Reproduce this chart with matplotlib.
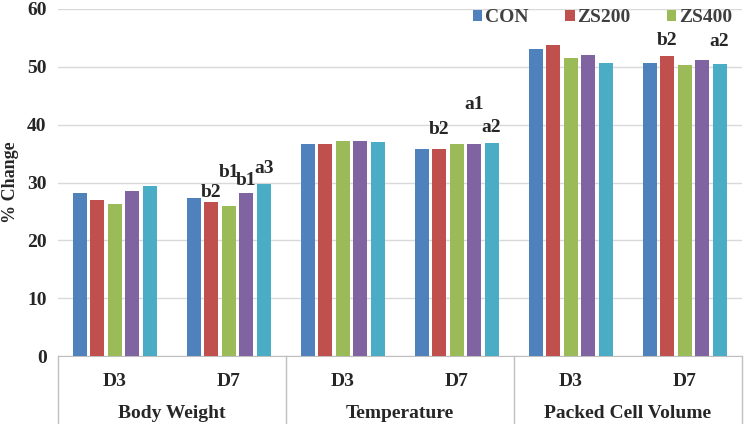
import matplotlib
matplotlib.use("Agg")
import matplotlib.pyplot as plt
import matplotlib.transforms as mtransforms
import numpy as np

plt.rcParams['font.family'] = ['Liberation Serif', 'DejaVu Serif']
plt.rcParams['font.weight'] = 'bold'

groups = ['Body Weight', 'Temperature', 'Packed Cell Volume']
days = ['D3', 'D7', 'D3', 'D7', 'D3', 'D7']
series = ['CON', 'ZS200', 'ZS400', 'S4', 'S5']
con = [28.2, 27.3, 36.7, 35.8, 53.1, 50.7]
zs200 = [27.0, 26.6, 36.7, 35.8, 53.8, 51.9]
zs400 = [26.3, 26.0, 37.2, 36.7, 51.6, 50.3]
s4 = [28.5, 28.2, 37.2, 36.7, 52.1, 51.2]
s5 = [29.4, 29.8, 37.0, 36.9, 50.7, 50.5]
values = [con, zs200, zs400, s4, s5]
colors = ['#4F81BD', '#C0504D', '#9BBB59', '#8064A2', '#4BACC6']

# significance letters: (category index, series index, text, offset in points)
letters = [(1, 1, 'b2', 1), (1, 2, 'b1', 18), (1, 3, 'b1', 3), (1, 4, 'a3', 5),
           (3, 1, 'b2', 8), (3, 3, 'a1', 22), (3, 4, 'a2', 5),
           (5, 1, 'b2', 5), (5, 4, 'a2', 10)]

fig = plt.figure(figsize=(7.5, 4.24), dpi=100)
ax = fig.add_axes([0.077, 0.160, 0.912, 0.819])

x = np.arange(len(days))
step = 0.153
width = 0.125
for i, (vals, c, name) in enumerate(zip(values, colors, series)):
    lab = name if i < 3 else '_nolegend_'
    ax.bar(x + (i - 2) * step, vals, width=width, color=c, label=lab, zorder=3)

for ci, si, txt, off in letters:
    ax.annotate(txt, (x[ci] + (si - 2) * step, values[si][ci]),
                xytext=(0, off), textcoords='offset points',
                ha='center', va='bottom', fontsize=14, fontweight='bold', color='#262626')

ax.set_ylim(0, 60)
ax.set_xlim(-0.5, len(days) - 0.5)
ax.set_yticks(range(0, 61, 10))
ax.tick_params(axis='y', length=0, labelsize=14, pad=8)
ax.tick_params(axis='x', length=0, labelsize=14, pad=12)
ax.set_xticks(x)
ax.set_xticklabels(days)
for lab in ax.get_xticklabels() + ax.get_yticklabels():
    lab.set_fontweight('bold')
    lab.set_color('#262626')
ax.grid(axis='y', color='#D9D9D9', linewidth=1, zorder=0)
for s in ['top', 'right', 'left']:
    ax.spines[s].set_visible(False)
ax.spines['bottom'].set_color('#BFBFBF')
ax.set_ylabel('% Change', fontsize=13, fontweight='bold', color='#262626')
ax.yaxis.set_label_coords(-0.056, 0.5)

# group separators and group labels under the axis
trans = mtransforms.blended_transform_factory(ax.transData, ax.transAxes)
for b in [-0.5, 1.5, 3.5, 5.5]:
    ax.plot([b, b], [0, -0.24], color='#BFBFBF', linewidth=1, transform=trans, clip_on=False)
for gi, g in enumerate(groups):
    ax.text(2 * gi + 0.5, -0.165, g, transform=trans, ha='center', va='center',
            fontsize=14, fontweight='bold', color='#262626')

leg = ax.legend(loc='upper right', bbox_to_anchor=(1.012, 1.05), ncol=3, frameon=False,
                fontsize=14, handlelength=0.5, handleheight=0.5, handletextpad=0.15,
                columnspacing=1.85)
for t in leg.get_texts():
    t.set_fontweight('bold')
    t.set_color('#404040')

fig.savefig('out.png', dpi=100)
